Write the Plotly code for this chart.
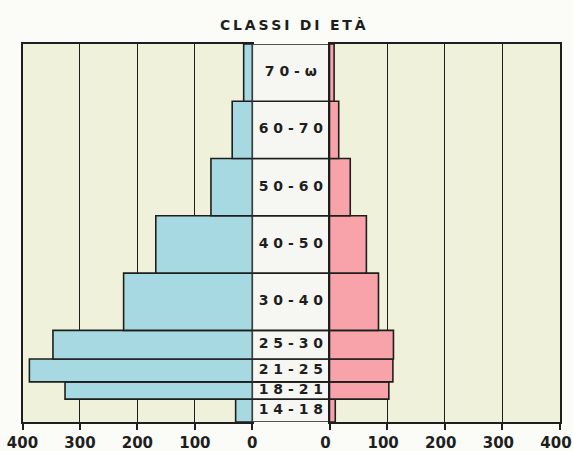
import plotly.graph_objects as go

# Age classes (years); the open top class is drawn 10 years tall
classi = ["14-18", "18-21", "21-25", "25-30", "30-40", "40-50", "50-60", "60-70", "70-ω"]
eta_da = [14, 18, 21, 25, 30, 40, 50, 60, 70]
eta_a = [18, 21, 25, 30, 40, 50, 60, 70, 80]

# Counts on each side of the pyramid
maschi = [29, 326, 388, 347, 224, 168, 72, 35, 15]
femmine = [10, 103, 110, 111, 85, 64, 36, 16, 8]

tick_vals = [0, 100, 200, 300, 400]
tick_text = ["0", "100", "200", "300", "400"]

centri = [(a + b) / 2 for a, b in zip(eta_da, eta_a)]
ampiezze = [b - a for a, b in zip(eta_da, eta_a)]

INK = "#1e1e1e"
BLU = "#a7d9e2"
ROSA = "#f7a3a9"
CREMA = "#eff1da"
BIANCO = "#f6f6f3"
FONT = "DejaVu Sans"


def spaziato(s, sep=" "):
    return sep.join(list(s))


fig = go.Figure()

fig.add_trace(go.Bar(
    y=centri, x=maschi, width=ampiezze, orientation="h",
    marker=dict(color=BLU, line=dict(color=INK, width=1.6)),
    xaxis="x", yaxis="y", hoverinfo="skip", name="maschi",
))
fig.add_trace(go.Bar(
    y=centri, x=[1] * len(classi), width=ampiezze, orientation="h",
    marker=dict(color=BIANCO, line=dict(color=INK, width=1.6)),
    xaxis="x2", yaxis="y2", hoverinfo="skip", name="classi",
))
fig.add_trace(go.Scatter(
    y=centri, x=[0.5] * len(classi), mode="text",
    text=[spaziato(c) for c in classi],
    textfont=dict(family=FONT, size=14, color=INK, weight="bold"),
    xaxis="x2", yaxis="y2", hoverinfo="skip", name="etichette",
))
fig.add_trace(go.Bar(
    y=centri, x=femmine, width=ampiezze, orientation="h",
    marker=dict(color=ROSA, line=dict(color=INK, width=1.6)),
    xaxis="x3", yaxis="y3", hoverinfo="skip", name="femmine",
))

W, H = 573, 451
x_left0, x_mid0, x_mid1, x_right1 = 22.5, 252.3, 329.5, 560.0
y_top, y_bot = 44.0, 422.0
ydom = [1 - y_bot / H, 1 - y_top / H]

x_common = dict(
    showline=True, mirror=True, linecolor=INK, linewidth=1.6,
    showgrid=True, gridcolor=INK, gridwidth=1.2, zeroline=False,
    tickvals=tick_vals, ticktext=tick_text,
    ticks="outside", ticklen=6, tickwidth=1.5, tickcolor=INK,
    tickfont=dict(family=FONT, size=15, color=INK, weight="bold"),
    ticklabeloverflow="allow", automargin=False, fixedrange=True,
)
y_common = dict(
    range=[14, 80], showline=True, mirror=True, linecolor=INK, linewidth=1.6,
    showgrid=False, zeroline=False, showticklabels=False, ticks="",
    domain=ydom, automargin=False, fixedrange=True,
)

fig.update_layout(
    width=W, height=H,
    margin=dict(l=0, r=0, t=0, b=0, autoexpand=False),
    paper_bgcolor="#fbfbf8", plot_bgcolor=CREMA,
    showlegend=False, barmode="overlay",
    xaxis=dict(domain=[x_left0 / W, x_mid0 / W], range=[400, 0], anchor="y", **x_common),
    xaxis2=dict(domain=[x_mid0 / W, x_mid1 / W], range=[0, 1], anchor="y2",
                showline=False, showgrid=False, zeroline=False, automargin=False,
                showticklabels=False, ticks="", fixedrange=True),
    # right-hand labels sit a little to the left so the last one stays on the page
    xaxis3=dict(domain=[x_mid1 / W, x_right1 / W], range=[0, 400], anchor="y3",
                ticklabelshift=-4, **x_common),
    yaxis=dict(anchor="x", **y_common),
    yaxis2=dict(anchor="x2", **{**y_common, "showline": False}),
    yaxis3=dict(anchor="x3", side="right", **y_common),
    annotations=[dict(
        text="\u2009 \u2009".join(spaziato(w, "\u2009") for w in ["CLASSI", "DI", "ETÀ"]),
        x=293 / W, y=1 - 25 / H, xref="paper", yref="paper",
        xanchor="center", yanchor="middle", showarrow=False,
        font=dict(family=FONT, size=14, color=INK, weight="bold"),
    )],
)

fig.write_html("out.html")
